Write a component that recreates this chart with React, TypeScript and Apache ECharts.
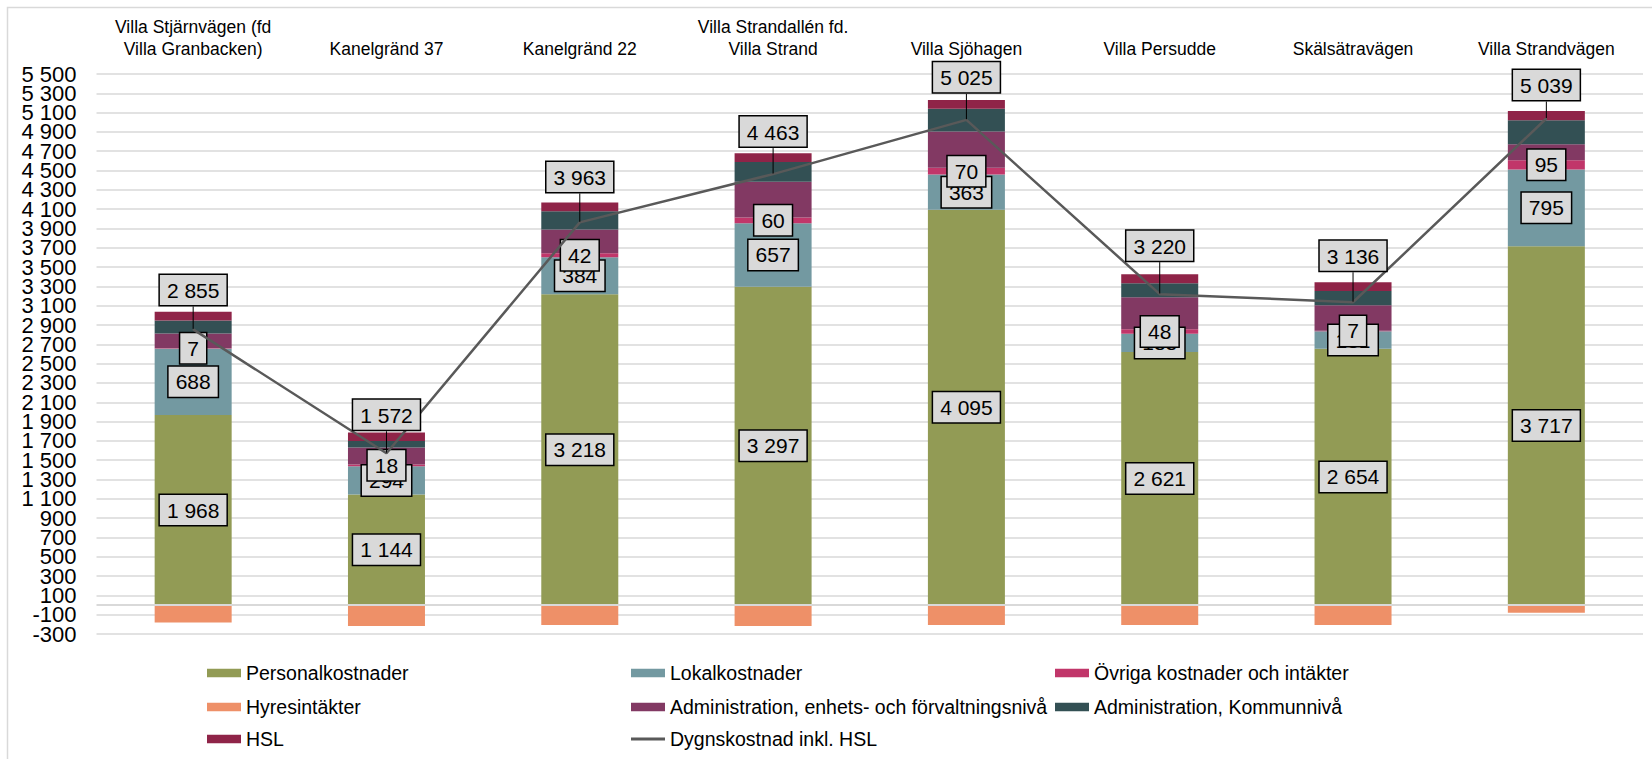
import React, { useEffect, useRef } from "react";
import * as echarts from "echarts";

const categories = [
  "Villa Stjärnvägen (fd\nVilla Granbacken)",
  "Kanelgränd 37",
  "Kanelgränd 22",
  "Villa Strandallén fd.\nVilla Strand",
  "Villa Sjöhagen",
  "Villa Persudde",
  "Skälsätravägen",
  "Villa Strandvägen",
];

const personal = [1968, 1144, 3218, 3297, 4095, 2621, 2654, 3717];
const lokal = [688, 294, 384, 657, 363, 188, 181, 795];
const ovriga = [7, 18, 42, 60, 70, 48, 7, 95];
const adminEnhet = [149, 175, 245, 370, 376, 332, 262, 166];
const adminKommun = [135, 69, 190, 205, 235, 145, 148, 248];
const hsl = [90, 88, 90, 90, 93, 93, 92, 97];
const hyres = [-182, -216, -206, -216, -207, -207, -208, -79];
const dygn = [2855, 1572, 3963, 4463, 5025, 3220, 3136, 5039];

// y axis range and step
const yMin = -300;
const yMax = 5500;
const yStep = 200;

// vertical displacement of the line's data labels (px, upward)
const lineLabelLift = [19, 18, 25, 22, 22, 28, 26, 13];

const FONT = "'Liberation Sans', Arial, sans-serif";

const fmt = (v: number) =>
  String(Math.round(v)).replace(/\B(?=(\d{3})+(?!\d))/g, " ");

const boxLabel = {
  show: true,
  position: "inside" as const,
  formatter: (p: any) => fmt(p.value),
  fontFamily: FONT,
  fontSize: 21,
  lineHeight: 25,
  color: "#000",
  backgroundColor: "#D9D9D9",
  borderColor: "#000",
  borderWidth: 1.5,
  padding: [3, 7, 2, 7],
};

const colors = {
  personal: "#929B55",
  lokal: "#7399A1",
  ovriga: "#C1366A",
  hyres: "#EE9068",
  adminEnhet: "#823963",
  adminKommun: "#335054",
  hsl: "#8F2448",
  dygn: "#595959",
};

export default function App() {
  const ref = useRef<HTMLDivElement>(null);

  useEffect(() => {
    if (!ref.current) return;
    const chart = echarts.init(ref.current, null, { renderer: "svg" });

    const barBase = {
      type: "bar",
      stack: "total",
      barWidth: 77,
      yAxisIndex: 0,
      emphasis: { disabled: true },
    };

    const legendCommon = {
      orient: "horizontal",
      padding: 0,
      itemWidth: 34,
      itemHeight: 8.5,
      itemGap: 0,
      icon: "rect",
      selectedMode: false,
      textStyle: {
        fontFamily: FONT,
        fontSize: 19.5,
        lineHeight: 22,
        color: "#000",
      },
    };
    const colX = [207, 631, 1055];
    const rowY = [662, 696, 728];
    const legendItems = [
      "Personalkostnader",
      "Lokalkostnader",
      "Övriga kostnader och intäkter",
      "Hyresintäkter",
      "Administration, enhets- och förvaltningsnivå",
      "Administration, Kommunnivå",
      "HSL",
      "Dygnskostnad inkl. HSL",
    ];
    const legends = legendItems.map((name, i) => {
      const isLine = name === "Dygnskostnad inkl. HSL";
      return {
        ...legendCommon,
        data: [name],
        left: colX[i % 3],
        top: rowY[Math.floor(i / 3)],
        itemHeight: isLine ? 3 : 8.5,
      };
    });

    const yLabelStyle = {
      fontFamily: FONT,
      fontSize: 22,
      color: "#000",
      margin: 20,
    };

    const option: any = {
      animation: false,
      backgroundColor: "#fff",
      textStyle: { fontFamily: FONT },
      graphic: [
        {
          type: "rect",
          shape: { x: 7.5, y: 7.5, width: 1700, height: 800 },
          style: { fill: "none", stroke: "#D9D9D9", lineWidth: 1.5 },
          silent: true,
        },
      ],
      legend: legends,
      grid: { left: 96.5, right: 9, top: 74, bottom: 125, containLabel: false },
      xAxis: {
        type: "category",
        position: "top",
        data: categories,
        axisLine: { show: false },
        axisTick: { show: false },
        axisLabel: {
          interval: 0,
          fontFamily: FONT,
          fontSize: 17.5,
          lineHeight: 22,
          color: "#000",
          margin: 14,
        },
      },
      yAxis: [
        {
          type: "value",
          min: yMin,
          max: yMax,
          interval: yStep,
          position: "left",
          axisLine: { show: false },
          axisTick: { show: false },
          splitLine: { lineStyle: { color: "#D9D9D9", width: 1.5 } },
          axisLabel: {
            ...yLabelStyle,
            formatter: (v: number) => fmt(v),
          },
        },
        {
          type: "value",
          min: yMin,
          max: yMax,
          interval: yStep,
          position: "left",
          axisLine: { show: false },
          axisTick: { show: false },
          splitLine: { show: false },
          axisLabel: {
            ...yLabelStyle,
            showMinLabel: true,
            showMaxLabel: true,
            formatter: (v: number) =>
              v === yMin || v === yMax ? fmt(v) : "",
          },
        },
      ],
      series: [
        {
          ...barBase,
          name: "Personalkostnader",
          data: personal,
          itemStyle: { color: colors.personal },
          label: boxLabel,
        },
        {
          ...barBase,
          name: "Lokalkostnader",
          data: lokal,
          itemStyle: { color: colors.lokal },
          label: boxLabel,
        },
        {
          ...barBase,
          name: "Övriga kostnader och intäkter",
          data: ovriga,
          itemStyle: { color: colors.ovriga },
          label: boxLabel,
        },
        {
          ...barBase,
          name: "Hyresintäkter",
          data: hyres,
          itemStyle: { color: colors.hyres },
          markLine: {
            silent: true,
            symbol: "none",
            label: { show: false },
            lineStyle: { color: "#D9D9D9", width: 2, type: "solid" },
            data: [{ yAxis: 0 }],
          },
        },
        {
          ...barBase,
          name: "Administration, enhets- och förvaltningsnivå",
          data: adminEnhet,
          itemStyle: { color: colors.adminEnhet },
        },
        {
          ...barBase,
          name: "Administration, Kommunnivå",
          data: adminKommun,
          itemStyle: { color: colors.adminKommun },
        },
        {
          ...barBase,
          name: "HSL",
          data: hsl,
          itemStyle: { color: colors.hsl },
        },
        {
          type: "line",
          name: "Dygnskostnad inkl. HSL",
          data: dygn,
          yAxisIndex: 0,
          symbol: "circle",
          symbolSize: 1,
          showSymbol: true,
          color: colors.dygn,
          itemStyle: { color: colors.dygn },
          lineStyle: { color: colors.dygn, width: 2.5 },
          emphasis: { disabled: true },
          label: { ...boxLabel, position: "top", distance: 5 },
          labelLine: { show: true, lineStyle: { color: "#000", width: 1 } },
          labelLayout: (p: any) => ({ dy: -lineLabelLift[p.dataIndex] }),
        },
      ],
    };

    chart.setOption(option);
    return () => chart.dispose();
  }, []);

  return (
    <div
      ref={ref}
      style={{ position: "absolute", left: 0, top: 0, width: 1652, height: 759 }}
    />
  );
}
